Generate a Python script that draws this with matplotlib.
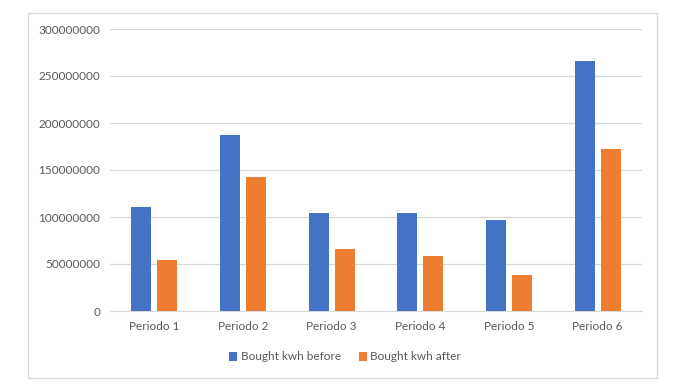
import matplotlib.pyplot as plt
import numpy as np
from matplotlib.patches import Rectangle

# Données
periodes = ['Periodo 1', 'Periodo 2', 'Periodo 3', 'Periodo 4', 'Periodo 5', 'Periodo 6']
avant = [111000000, 187000000, 104000000, 104000000, 97000000, 266000000]
apres = [54000000, 143000000, 66000000, 58000000, 38000000, 172000000]
graduations = [0, 50000000, 100000000, 150000000, 200000000, 250000000, 300000000]

plt.rcParams['font.family'] = ['Lato', 'DejaVu Sans']
gris = '#595959'

fig = plt.figure(figsize=(6.89, 3.9), dpi=100)
ax = fig.add_axes([110 / 689, 1 - 311 / 390, 532 / 689, 282 / 390])

x = np.arange(len(periodes))
ax.bar(x - 0.146, avant, width=0.225, color='#4472C4', label='Bought kwh before', zorder=3)
ax.bar(x + 0.146, apres, width=0.225, color='#ED7D31', label='Bought kwh after', zorder=3)

ax.set_xlim(-0.5, len(periodes) - 0.5)
ax.set_ylim(0, 300000000)
ax.set_yticks(graduations)
ax.set_yticklabels([str(g) for g in graduations], color=gris, fontsize=8.5)
ax.set_xticks(x)
ax.set_xticklabels(periodes, color=gris, fontsize=8.5)
ax.tick_params(length=0, pad=7)
ax.grid(axis='y', color='#D9D9D9', linewidth=0.9, zorder=0)
for s in ['top', 'right', 'left']:
    ax.spines[s].set_visible(False)
ax.spines['bottom'].set_color('#D9D9D9')

ax.legend(loc='center', bbox_to_anchor=(345 / 689, 1 - 357 / 390), bbox_transform=fig.transFigure,
          ncol=2, frameon=False, fontsize=8.5, handlelength=0.7, handleheight=0.7,
          handletextpad=0.3, columnspacing=1.5, labelcolor=gris)

# Cadre extérieur
fig.patches.append(Rectangle((28 / 689, 1 - 378 / 390), 629 / 689, 365 / 390,
                             transform=fig.transFigure, fill=False, edgecolor='#D9D9D9', linewidth=1))

plt.savefig('out.png')
